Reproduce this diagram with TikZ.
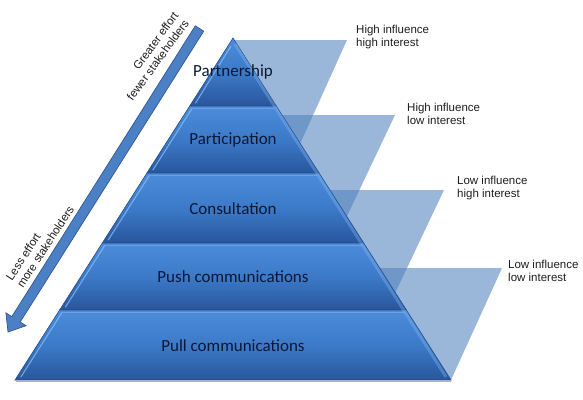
\documentclass[tikz,border=0pt]{standalone}
\usepackage{fontspec}
\setmainfont{Carlito}
\newfontfamily\labelfont{Liberation Sans}
\usetikzlibrary{calc}
\definecolor{layertop}{RGB}{76,140,218}
\definecolor{layermid}{RGB}{60,122,200}
\definecolor{layerbot}{RGB}{40,86,156}
\definecolor{edgeline}{RGB}{38,78,138}
\definecolor{hilite}{RGB}{140,190,245}
\definecolor{wedgecol}{RGB}{79,129,189}
\definecolor{arrowfill}{RGB}{76,128,196}
\definecolor{arrowdraw}{RGB}{50,88,148}
\definecolor{navy}{RGB}{12,24,52}
\definecolor{labelgray}{RGB}{30,30,30}
\begin{document}
\begin{tikzpicture}[x=1pt,y=-1pt,
  layer/.style={top color=layertop, bottom color=layerbot, middle color=layermid, draw=edgeline, line width=0.6pt},
  wedge/.style={fill=wedgecol, fill opacity=0.57},
  hl/.style={draw=hilite, line width=1.1pt, opacity=0.75, line cap=round},
  layertext/.style={font=\fontsize{17}{20}\selectfont, text=navy, inner sep=0},
  infl/.style={font=\labelfont\fontsize{11.5}{13}\selectfont, text=labelgray, align=left, inner sep=0},
  bigarrow/.style={fill=arrowfill, draw=arrowdraw, line width=0.7pt, line join=miter}]
\useasboundingbox (0,0) rectangle (583,399);
\fill[white] (0,0) rectangle (583,399);

% translucent wedges
\fill[wedge] (231,40) -- (347,40) -- (300.2,143.6) -- cycle;
\fill[wedge] (279,115) -- (395,115) -- (346.8,216.6) -- cycle;
\fill[wedge] (327,190) -- (444,190) -- (395.3,292.7) -- cycle;
\fill[wedge] (377,268) -- (502,268) -- (451,380) -- cycle;

% pyramid shadow
\draw[black!30, line width=1.2pt] (16,381.5) -- (451,381.5);

% pyramid layers
\shade[layer] (233,38) -- (276.3,106) -- (189.7,106) -- cycle;
\shade[layer] (189.7,106) -- (276.3,106) -- (319.1,173) -- (146.9,173) -- cycle;
\shade[layer] (146.9,173) -- (319.1,173) -- (363.7,243) -- (102.3,243) -- cycle;
\shade[layer] (102.3,243) -- (363.7,243) -- (406.4,310) -- (59.6,310) -- cycle;
\shade[layer] (59.6,310) -- (406.4,310) -- (451,380) -- (15,380) -- cycle;

% bevel highlights
\draw[hl] (195.6,103) -- (231,46);
\draw[hl] (152.9,170) -- (191.7,109);
\draw[hl, opacity=0.45] (191.7,108.5) -- (273.9,108.5);
\draw[hl] (108.2,240) -- (149.0,176);
\draw[hl, opacity=0.45] (149.0,175.5) -- (316.6,175.5);
\draw[hl] (65.5,307) -- (104.4,246);
\draw[hl, opacity=0.45] (104.4,245.5) -- (361.3,245.5);
\draw[hl] (20.9,377) -- (61.7,313);
\draw[hl, opacity=0.45] (61.7,312.5) -- (404.0,312.5);
\draw[hilite, line width=3pt, opacity=0.35] (235,44) -- (446,377);

% layer texts
\node[layertext] (partnership) at (233,72) {Partnership};
\node[layertext] (participation) at (233,140) {Participation};
\node[layertext] (consultation) at (233,209) {Consultation};
\node[layertext] (push) at (233,277) {Push communications};
\node[layertext] (pull) at (233,346) {Pull communications};

% influence labels
\node[infl, anchor=west] (hh) at (356,37.5) {High influence\\high interest};
\node[infl, anchor=west] (hl) at (407,114) {High influence\\low interest};
\node[infl, anchor=west] (lh) at (457,188.5) {Low influence\\high interest};
\node[infl, anchor=west] (ll) at (508,271) {Low influence\\low interest};

% effort arrow
\fill[bigarrow] (195.3,25.8) -- (203.7,31.2) -- (20.2,322.0) -- (26.1,325.7) -- (8,332) -- (5.9,312.9) -- (11.8,316.6) -- cycle;
\node[infl, align=right, anchor=east, rotate=54] (greater) at (181,17) {Greater effort\\fewer stakeholders};
\node[infl, align=left, anchor=west, rotate=57] (less) at (14,283) {Less effort\\more stakeholders};
\end{tikzpicture}
\end{document}
